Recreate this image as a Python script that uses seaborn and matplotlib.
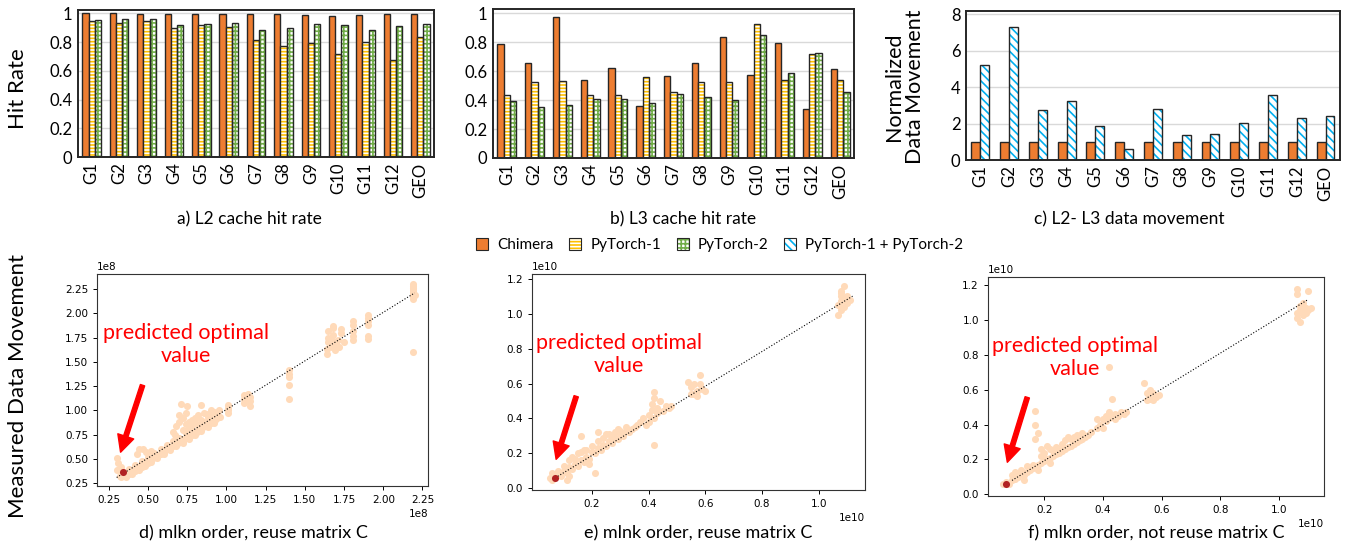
"""
Cache hit rates / data movement (bars) and predicted vs measured data movement (scatter).
"""

import numpy as np
import pandas as pd
import matplotlib
matplotlib.use('Agg')
import matplotlib.pyplot as plt
from matplotlib.patches import Patch, Rectangle
from matplotlib.ticker import FuncFormatter
import seaborn as sns

# ------------------------------------------------------------
# Data
# ------------------------------------------------------------
groups = ['G1', 'G2', 'G3', 'G4', 'G5', 'G6', 'G7', 'G8', 'G9', 'G10', 'G11', 'G12', 'GEO']

l2_chimera = [1.00, 1.00, 0.998, 0.995, 0.997, 0.995, 0.997, 0.997, 0.986, 0.981, 0.986, 0.993, 0.993]
l2_pytorch1 = [0.944, 0.930, 0.947, 0.900, 0.916, 0.902, 0.816, 0.770, 0.795, 0.716, 0.802, 0.677, 0.837]
l2_pytorch2 = [0.956, 0.958, 0.958, 0.921, 0.925, 0.933, 0.886, 0.898, 0.928, 0.921, 0.881, 0.912, 0.923]

l3_chimera = [0.785, 0.657, 0.977, 0.542, 0.625, 0.356, 0.567, 0.660, 0.833, 0.576, 0.792, 0.338, 0.613]
l3_pytorch1 = [0.433, 0.528, 0.532, 0.435, 0.435, 0.560, 0.454, 0.525, 0.525, 0.924, 0.537, 0.718, 0.537]
l3_pytorch2 = [0.391, 0.350, 0.368, 0.407, 0.407, 0.382, 0.440, 0.424, 0.398, 0.847, 0.590, 0.727, 0.458]

move_chimera = [1.0] * 13
move_pytorch12 = [5.21, 7.32, 2.72, 3.23, 1.87, 0.62, 2.81, 1.38, 1.45, 2.04, 3.58, 2.31, 2.39]

# scatter: (predicted, measured), d in units of 1e8, e/f in units of 1e10
d_points = [
    (0.32, 0.33), (0.33, 0.32), (0.35, 0.34), (0.36, 0.33), (0.37, 0.36), (0.38, 0.35), (0.40, 0.37),
    (0.41, 0.39), (0.42, 0.38), (0.44, 0.41), (0.45, 0.43), (0.46, 0.42), (0.48, 0.45), (0.49, 0.47),
    (0.50, 0.46), (0.52, 0.49), (0.53, 0.51), (0.55, 0.52), (0.56, 0.54), (0.58, 0.55), (0.60, 0.57),
    (0.61, 0.59), (0.63, 0.60), (0.64, 0.62), (0.66, 0.63), (0.67, 0.65), (0.69, 0.66), (0.70, 0.68),
    (0.72, 0.69), (0.73, 0.71), (0.75, 0.72), (0.76, 0.74), (0.78, 0.75), (0.79, 0.77), (0.81, 0.78),
    (0.82, 0.80), (0.84, 0.81), (0.85, 0.83), (0.87, 0.84), (0.88, 0.86), (0.90, 0.87), (0.91, 0.89),
    (0.93, 0.90), (0.94, 0.92), (0.96, 0.93),
    (0.34, 0.37), (0.38, 0.40), (0.42, 0.44), (0.46, 0.48), (0.50, 0.52), (0.54, 0.56), (0.58, 0.60),
    (0.62, 0.64), (0.66, 0.69), (0.70, 0.72), (0.74, 0.77), (0.78, 0.80), (0.82, 0.85), (0.86, 0.88),
    (0.90, 0.93), (0.94, 0.97),
    (0.36, 0.32), (0.40, 0.35), (0.44, 0.39), (0.48, 0.43), (0.52, 0.47), (0.56, 0.51), (0.60, 0.55),
    (0.64, 0.59), (0.68, 0.63), (0.72, 0.67), (0.76, 0.71), (0.80, 0.75), (0.84, 0.79), (0.88, 0.83),
    (0.92, 0.87),
    (0.30, 0.51), (0.31, 0.46), (0.30, 0.39), (0.33, 0.42), (0.44, 0.60), (0.47, 0.60), (0.49, 0.57),
    (0.43, 0.55), (0.52, 0.58), (0.66, 0.78), (0.67, 0.75), (0.68, 0.84), (0.70, 0.88), (0.70, 0.95),
    (0.71, 1.07), (0.72, 0.92), (0.74, 0.97), (0.75, 1.05), (0.76, 0.88), (0.78, 0.90), (0.80, 0.87),
    (0.82, 0.95), (0.84, 1.06), (0.86, 0.97), (0.88, 0.93), (0.90, 1.00), (0.92, 0.98), (0.95, 1.00),
    (0.72, 0.80), (0.76, 0.82), (0.80, 0.92), (0.84, 0.90), (0.88, 0.96), (0.92, 0.95), (0.78, 0.85),
    (0.74, 0.86),
    (1.01, 0.97), (1.01, 1.00), (1.01, 1.03), (1.01, 1.06), (1.11, 1.08), (1.11, 1.12), (1.11, 1.16),
    (1.13, 1.10), (1.15, 1.05), (1.15, 1.10), (1.15, 1.14), (1.14, 1.17),
    (1.40, 1.12), (1.40, 1.26), (1.40, 1.34), (1.40, 1.38), (1.40, 1.42),
    (1.64, 1.58), (1.64, 1.63), (1.65, 1.70), (1.65, 1.75), (1.65, 1.82), (1.67, 1.65), (1.68, 1.72),
    (1.68, 1.78), (1.68, 1.85), (1.68, 1.87), (1.69, 1.62), (1.70, 1.68), (1.71, 1.73), (1.72, 1.65),
    (1.73, 1.80), (1.73, 1.84), (1.75, 1.70),
    (1.81, 1.73), (1.81, 1.77), (1.81, 1.82), (1.81, 1.88), (1.81, 1.92),
    (1.90, 1.74), (1.90, 1.77), (1.90, 1.88), (1.90, 1.92), (1.90, 1.95), (1.90, 1.98),
    (2.19, 1.60), (2.19, 2.15), (2.19, 2.17), (2.19, 2.20), (2.19, 2.22), (2.19, 2.24), (2.19, 2.26),
    (2.19, 2.28), (2.19, 2.30), (2.20, 2.19),
]
d_best = (0.34, 0.37)
d_fit = [(0.30, 0.31), (2.20, 2.21)]

e_points = [
    (0.05, 0.06), (0.06, 0.05), (0.08, 0.08), (0.09, 0.07), (0.10, 0.10), (0.11, 0.09), (0.12, 0.12),
    (0.13, 0.11), (0.14, 0.14), (0.15, 0.13), (0.16, 0.16), (0.17, 0.15), (0.18, 0.18), (0.19, 0.17),
    (0.20, 0.21), (0.21, 0.20), (0.22, 0.23), (0.23, 0.22), (0.24, 0.25), (0.25, 0.24), (0.26, 0.27),
    (0.27, 0.26), (0.28, 0.29), (0.29, 0.28), (0.30, 0.31), (0.31, 0.30), (0.32, 0.33), (0.33, 0.32),
    (0.34, 0.34), (0.35, 0.35), (0.36, 0.36),
    (0.08, 0.10), (0.10, 0.13), (0.12, 0.16), (0.14, 0.17), (0.16, 0.21), (0.16, 0.30), (0.17, 0.22),
    (0.18, 0.22), (0.20, 0.24), (0.22, 0.27), (0.22, 0.32), (0.24, 0.29), (0.26, 0.31), (0.28, 0.32),
    (0.30, 0.33), (0.32, 0.35), (0.25, 0.31), (0.27, 0.30), (0.29, 0.34), (0.13, 0.18), (0.15, 0.20),
    (0.11, 0.05), (0.21, 0.09), (0.12, 0.07), (0.19, 0.14), (0.06, 0.09),
    (0.37, 0.38), (0.38, 0.40), (0.39, 0.36), (0.40, 0.38), (0.40, 0.42), (0.41, 0.45), (0.41, 0.48),
    (0.42, 0.40), (0.42, 0.52), (0.42, 0.55), (0.42, 0.25), (0.43, 0.43), (0.43, 0.46), (0.44, 0.50),
    (0.45, 0.44), (0.46, 0.47), (0.47, 0.46), (0.48, 0.47),
    (0.54, 0.61), (0.55, 0.58), (0.56, 0.54), (0.57, 0.53), (0.57, 0.56), (0.58, 0.60), (0.58, 0.65),
    (0.59, 0.57), (0.60, 0.56), (0.55, 0.54), (0.56, 0.60),
    (1.07, 0.99), (1.07, 1.05), (1.08, 1.07), (1.08, 1.02), (1.09, 1.04), (1.09, 1.08), (1.10, 1.06),
    (1.10, 1.10), (1.11, 1.08), (1.08, 1.10), (1.08, 1.12), (1.09, 1.16), (1.08, 1.13),
]
e_best = (0.07, 0.06)
e_fit = [(0.07, 0.06), (1.12, 1.10)]

f_points = [
    (0.06, 0.06), (0.07, 0.07), (0.08, 0.06), (0.09, 0.08), (0.10, 0.09), (0.11, 0.10), (0.12, 0.12),
    (0.13, 0.11), (0.14, 0.13), (0.15, 0.14), (0.16, 0.15), (0.17, 0.16), (0.18, 0.17), (0.19, 0.18),
    (0.20, 0.19), (0.21, 0.20), (0.22, 0.21), (0.23, 0.22), (0.24, 0.23), (0.25, 0.24), (0.26, 0.25),
    (0.27, 0.26), (0.28, 0.27), (0.29, 0.28), (0.30, 0.29), (0.31, 0.30), (0.32, 0.31), (0.33, 0.32),
    (0.34, 0.33), (0.35, 0.34), (0.36, 0.36),
    (0.09, 0.11), (0.10, 0.13), (0.12, 0.14), (0.14, 0.16), (0.16, 0.17), (0.19, 0.22), (0.19, 0.26),
    (0.20, 0.24), (0.21, 0.28), (0.22, 0.26), (0.23, 0.25), (0.24, 0.27), (0.25, 0.26), (0.26, 0.29),
    (0.27, 0.31), (0.28, 0.33), (0.29, 0.32), (0.30, 0.33), (0.31, 0.34), (0.33, 0.35), (0.20, 0.21),
    (0.22, 0.18), (0.13, 0.08), (0.18, 0.14),
    (0.17, 0.48), (0.17, 0.40), (0.18, 0.35), (0.17, 0.32),
    (0.38, 0.38), (0.38, 0.43), (0.39, 0.40), (0.40, 0.43), (0.40, 0.38), (0.41, 0.42), (0.42, 0.44),
    (0.43, 0.45), (0.44, 0.46), (0.45, 0.45), (0.46, 0.47), (0.47, 0.46), (0.48, 0.47), (0.44, 0.43),
    (0.41, 0.45), (0.42, 0.47), (0.43, 0.55), (0.42, 0.73),
    (0.54, 0.64), (0.55, 0.58), (0.56, 0.60), (0.56, 0.55), (0.57, 0.54), (0.58, 0.56), (0.59, 0.57),
    (0.55, 0.54), (0.57, 0.58),
    (1.06, 1.01), (1.06, 1.04), (1.07, 1.06), (1.07, 1.08), (1.08, 1.03), (1.08, 1.05), (1.09, 1.07),
    (1.09, 1.04), (1.10, 1.06), (1.11, 1.07), (1.07, 0.99), (1.06, 1.15), (1.06, 1.18), (1.10, 1.17),
    (1.08, 1.10),
]
f_best = (0.07, 0.06)
f_fit = [(0.09, 0.08), (1.10, 1.12)]

# ------------------------------------------------------------
# Style
# ------------------------------------------------------------
ORANGE = '#ED7D31'
YELLOW = '#FFC000'
GREEN = '#70AD47'
BLUE = '#00B0F0'
PEACH = '#FFDAB9'
BEST = '#B22222'
TXT = 'Lato'

styles = {
    'Chimera': dict(face=ORANGE, hatch=None, hcolor=None),
    'PyTorch-1': dict(face='white', hatch='-----', hcolor=YELLOW),
    'PyTorch-2': dict(face='white', hatch='++++', hcolor=GREEN),
    'PyTorch-1 + PyTorch-2': dict(face='white', hatch='\\\\\\\\', hcolor=BLUE),
}

plt.rcParams['hatch.linewidth'] = 1.2


def bar_panel(ax, series, width, ylim, yticks):
    rows = []
    for name, vals in series.items():
        for g, v in zip(groups, vals):
            rows.append({'group': g, 'system': name, 'value': v})
    df = pd.DataFrame(rows)
    names = list(series.keys())
    sns.barplot(data=df, x='group', y='value', hue='system', hue_order=names,
                palette={n: styles[n]['face'] for n in names}, width=width,
                saturation=1, errorbar=None, legend=False, ax=ax, zorder=2)
    for name, cont in zip(names, ax.containers):
        st = styles[name]
        for p in cont:
            if st['hatch']:
                p.set_facecolor('white')
                p.set_edgecolor(st['hcolor'])
                p.set_hatch(st['hatch'])
                p.set_linewidth(0)
                ax.add_patch(Rectangle(p.get_xy(), p.get_width(), p.get_height(),
                                       fill=False, ec='#262626', lw=1.0, zorder=3))
            else:
                p.set_edgecolor('#262626')
                p.set_linewidth(1.0)

    ax.set_xlim(-0.5, len(groups) - 0.5)
    ax.set_ylim(*ylim)
    ax.set_yticks(yticks)
    ax.yaxis.set_major_formatter(FuncFormatter(lambda v, pos: f'{v:g}'))
    ax.yaxis.grid(True, color='#d9d9d9', lw=1)
    ax.set_axisbelow(True)
    ax.set_xlabel('')
    ax.set_ylabel('')
    ax.tick_params(axis='both', length=0, labelsize=12, pad=4)
    ax.tick_params(axis='x', labelrotation=90)
    for lab in ax.get_xticklabels() + ax.get_yticklabels():
        lab.set_family(TXT)
    for sp in ax.spines.values():
        sp.set_color('#262626')
        sp.set_linewidth(1.4)


def scatter_panel(ax, points, best, fit, scale, xlim, ylim, ticks, text_xy, tail, head):
    pts = np.array(points) * scale
    sns.scatterplot(x=pts[:, 0], y=pts[:, 1], color=PEACH, s=26, linewidth=0, ax=ax, zorder=2)
    fit = np.array(fit) * scale
    ax.plot(fit[:, 0], fit[:, 1], ls=':', color='black', lw=0.8, zorder=3)
    sns.scatterplot(x=[best[0] * scale], y=[best[1] * scale], color=BEST, s=26,
                    linewidth=0, ax=ax, zorder=4)
    ax.set_xlim(xlim[0] * scale, xlim[1] * scale)
    ax.set_ylim(ylim[0] * scale, ylim[1] * scale)
    ax.set_xticks(np.array(ticks[0]) * scale)
    ax.set_yticks(np.array(ticks[1]) * scale)
    ax.tick_params(labelsize=7.5, length=3, width=0.7)
    ax.xaxis.get_offset_text().set_fontsize(7.5)
    ax.yaxis.get_offset_text().set_fontsize(7.5)
    for sp in ax.spines.values():
        sp.set_color('#333333')
        sp.set_linewidth(0.8)

    ax.text(text_xy[0] * scale, text_xy[1] * scale, 'predicted optimal\nvalue', color='red',
            family=TXT, fontsize=15.5, ha='center', va='center', linespacing=1.2)
    ax.annotate('', xy=(head[0] * scale, head[1] * scale),
                xytext=(tail[0] * scale, tail[1] * scale),
                arrowprops=dict(facecolor='red', edgecolor='red', width=3.2,
                                headwidth=12, headlength=12, shrink=0))


# ------------------------------------------------------------
# Figure
# ------------------------------------------------------------
fig = plt.figure(figsize=(13.48, 5.48), dpi=100)

ax_a = fig.add_axes([0.0579, 0.7135, 0.2641, 0.2682])
ax_b = fig.add_axes([0.3657, 0.7117, 0.2678, 0.2719])
ax_c = fig.add_axes([0.7166, 0.7080, 0.2774, 0.2719])
ax_d = fig.add_axes([0.0720, 0.1131, 0.2456, 0.3869])
ax_e = fig.add_axes([0.3947, 0.1058, 0.2470, 0.3942])
ax_f = fig.add_axes([0.7329, 0.0949, 0.2493, 0.3996])

hit_ticks = [0, 0.2, 0.4, 0.6, 0.8, 1.0]
bar_panel(ax_a, {'Chimera': l2_chimera, 'PyTorch-1': l2_pytorch1, 'PyTorch-2': l2_pytorch2},
          0.68, (0, 1.023), hit_ticks)
bar_panel(ax_b, {'Chimera': l3_chimera, 'PyTorch-1': l3_pytorch1, 'PyTorch-2': l3_pytorch2},
          0.68, (0, 1.03), hit_ticks)
bar_panel(ax_c, {'Chimera': move_chimera, 'PyTorch-1 + PyTorch-2': move_pytorch12},
          0.62, (0, 8.18), [0, 2, 4, 6, 8])

scatter_panel(ax_d, d_points, d_best, d_fit, 1e8, (0.175, 2.286), (0.222, 2.405),
              ([0.25, 0.5, 0.75, 1.0, 1.25, 1.5, 1.75, 2.0, 2.25],
               [0.25, 0.5, 0.75, 1.0, 1.25, 1.5, 1.75, 2.0, 2.25]),
              (0.74, 1.68), (0.465, 1.26), (0.325, 0.57))
scatter_panel(ax_e, e_points, e_best, e_fit, 1e10, (-0.012, 1.164), (-0.0096, 1.227),
              ([0.2, 0.4, 0.6, 0.8, 1.0], [0.0, 0.2, 0.4, 0.6, 0.8, 1.0, 1.2]),
              (0.295, 0.765), (0.144, 0.527), (0.073, 0.166))
scatter_panel(ax_f, f_points, f_best, f_fit, 1e10, (0.008, 1.153), (-0.0096, 1.248),
              ([0.2, 0.4, 0.6, 0.8, 1.0], [0.0, 0.2, 0.4, 0.6, 0.8, 1.0, 1.2]),
              (0.304, 0.787), (0.142, 0.557), (0.074, 0.184))

# axis titles and captions
fig.text(0.013, 0.838, 'Hit Rate', rotation=90, ha='center', va='center', family=TXT, fontsize=16)
fig.text(0.671, 0.841, 'Normalized\nData Movement', rotation=90, ha='center', va='center',
         family=TXT, fontsize=15.5, linespacing=1.05)
fig.text(0.0135, 0.296, 'Measured Data Movement', rotation=90, ha='center', va='center',
         family=TXT, fontsize=16)

cap = dict(ha='center', va='center', family=TXT, fontsize=12.5)
fig.text(0.185, 0.599, 'a) L2 cache hit rate', **cap)
fig.text(0.507, 0.599, 'b) L3 cache hit rate', **cap)
fig.text(0.838, 0.599, 'c) L2- L3 data movement', **cap)
cap['fontsize'] = 13
fig.text(0.188, 0.027, 'd) mlkn order, reuse matrix C', **cap)
fig.text(0.518, 0.027, 'e) mlnk order, reuse matrix C', **cap)
fig.text(0.858, 0.027, 'f) mlkn order, not reuse matrix C', **cap)

# shared legend
handles = []
labels = list(styles.keys())
for name in labels:
    st = styles[name]
    if st['hatch']:
        handles.append((Patch(facecolor='white', edgecolor=st['hcolor'], hatch=st['hatch'], lw=0),
                        Patch(fill=False, edgecolor='#262626', lw=0.8)))
    else:
        handles.append(Patch(facecolor=st['face'], edgecolor='#262626', lw=0.8))
fig.legend(handles, labels, loc='center', bbox_to_anchor=(0.534, 0.553), ncol=4, frameon=False,
           prop={'family': TXT, 'size': 11}, handlelength=0.8, handleheight=0.8,
           columnspacing=1.0, handletextpad=0.6)

fig.savefig('out.png', dpi=100)
plt.close(fig)
